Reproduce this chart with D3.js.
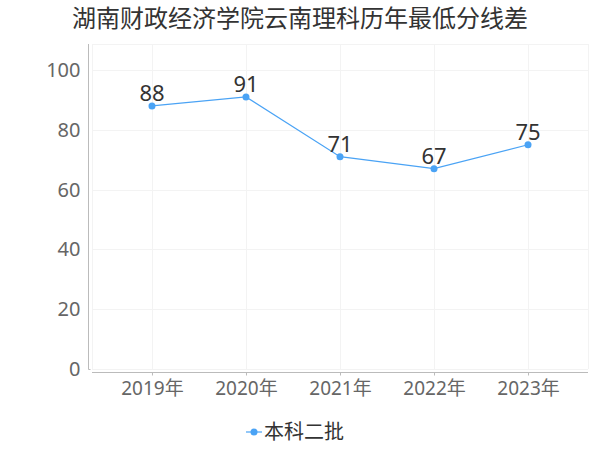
<!doctype html>
<html>
<head>
<meta charset="utf-8">
<title>历年最低分线差</title>
<script src="https://cdn.jsdelivr.net/npm/d3@7/dist/d3.min.js"></script>
<style>
*{margin:0;padding:0;}
body{background:white;font-family:"Noto Sans CJK SC","Noto Sans",sans-serif;}
</style>
</head>
<body>
<script>
// 数据
var years = ["2019年", "2020年", "2021年", "2022年", "2023年"];
var values = [88, 91, 71, 67, 75];
var yTicks = [0, 20, 40, 60, 80, 100];
var seriesName = "本科二批";
var title = "湖南财政经济学院云南理科历年最低分线差";

var svg = d3.select("body").append("svg")
  .attr("width", 600).attr("height", 450);

var pLeft = 92, pRight = 588, pTop = 44, pBottom = 369;
var color = "#4aa3f5";

var x = d3.scalePoint().domain(years).range([pLeft, pRight]).padding(0.638);
var y = d3.scaleLinear().domain([0, 108.7]).range([pBottom, pTop]);

// 标题
svg.append("text")
  .attr("x", 300).attr("y", 27)
  .attr("text-anchor", "middle")
  .attr("font-size", "24px")
  .attr("fill", "#333")
  .text(title);

// 网格
var grid = svg.append("g").attr("stroke", "#f3f3f3").attr("stroke-width", 1);
yTicks.concat([108.7]).forEach(function(t){
  grid.append("line").attr("x1", pLeft).attr("x2", pRight)
    .attr("y1", Math.round(y(t)) + 0.5).attr("y2", Math.round(y(t)) + 0.5);
});
[pLeft, pRight].concat(years.map(function(d){ return x(d); })).forEach(function(v){
  grid.append("line").attr("y1", pTop).attr("y2", pBottom)
    .attr("x1", Math.round(v) + 0.5).attr("x2", Math.round(v) + 0.5);
});

// y轴
var yAxis = svg.append("g")
  .attr("transform", "translate(88.5,0)")
  .call(d3.axisLeft(y).tickValues(yTicks).tickSize(0).tickPadding(8));
yAxis.select(".domain").remove();
yAxis.append("line").attr("x1", 0).attr("x2", 0).attr("y1", pTop).attr("y2", pBottom + 0.5)
  .attr("stroke", "#bbb");
yAxis.append("line").attr("x1", 0).attr("x2", 2).attr("y1", pBottom + 0.5).attr("y2", pBottom + 0.5)
  .attr("stroke", "#bbb");
yAxis.selectAll("text")
  .attr("font-size", "20px").attr("fill", "#666")
  .attr("font-family", "'Noto Sans','DejaVu Sans',sans-serif");

// x轴
var xAxis = svg.append("g")
  .attr("transform", "translate(0,372.5)")
  .call(d3.axisBottom(x).tickSize(3).tickPadding(6));
xAxis.select(".domain").attr("stroke", "#bbb").attr("d", "M" + pLeft + ",0H" + pRight);
xAxis.selectAll(".tick line").attr("stroke", "#bbb");
xAxis.selectAll("text")
  .attr("font-size", "19px").attr("fill", "#666")
  .attr("font-family", "'Noto Sans','Noto Sans CJK SC',sans-serif");

// 折线
var line = d3.line()
  .x(function(d, i){ return x(years[i]); })
  .y(function(d){ return y(d); });
svg.append("path").datum(values)
  .attr("d", line)
  .attr("fill", "none").attr("stroke", color).attr("stroke-width", 1.2);

svg.selectAll(".pt").data(values).enter().append("circle")
  .attr("class", "pt")
  .attr("cx", function(d, i){ return x(years[i]); })
  .attr("cy", function(d){ return y(d); })
  .attr("r", 3.5).attr("fill", color);

svg.selectAll(".lbl").data(values).enter().append("text")
  .attr("class", "lbl")
  .attr("x", function(d, i){ return x(years[i]); })
  .attr("y", function(d){ return y(d) - 5; })
  .attr("text-anchor", "middle")
  .attr("font-size", "22px").attr("fill", "#333")
  .attr("font-family", "'Noto Sans','DejaVu Sans',sans-serif")
  .text(function(d){ return d; });

// 图例
var lg = svg.append("g").attr("transform", "translate(246,432)");
lg.append("line").attr("x1", 0).attr("x2", 16).attr("y1", 0).attr("y2", 0)
  .attr("stroke", color).attr("stroke-width", 1.2);
lg.append("circle").attr("cx", 8).attr("cy", 0).attr("r", 3.5).attr("fill", color);
lg.append("text").attr("x", 18).attr("y", 0).attr("dy", "0.36em")
  .attr("font-size", "20px").attr("fill", "#333")
  .text(seriesName);
</script>
</body>
</html>
